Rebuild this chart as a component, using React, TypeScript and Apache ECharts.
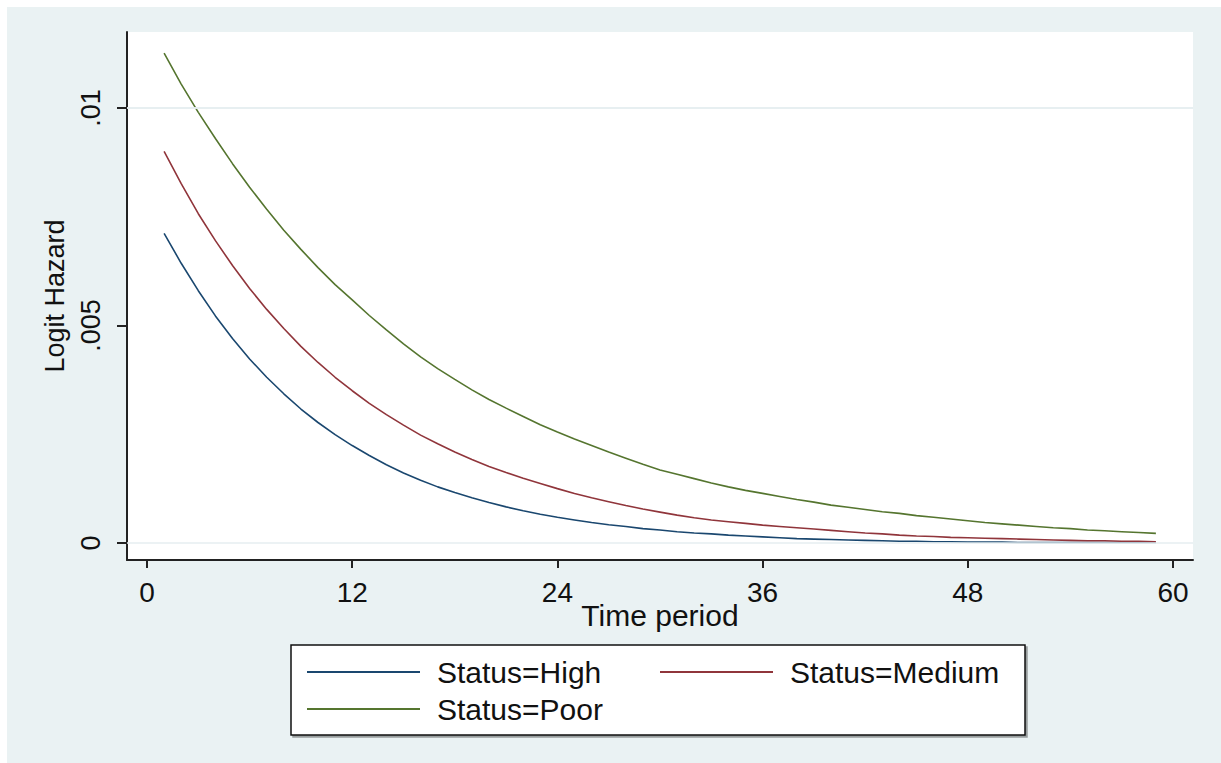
import React, { useEffect, useRef } from "react";
import * as echarts from "echarts";

const xTicks = [0, 12, 24, 36, 48, 60];
const yTicks = [0, 0.005, 0.01];
const yTickLabels = ["0", ".005", ".01"];
const seriesNames = ["Status=High", "Status=Medium", "Status=Poor"];
const seriesColors = ["#1a476f", "#90353b", "#55752f"];

// Logit hazard by time period (periods 1..59)
const high = [
  0.00712, 0.00643, 0.0058, 0.00522, 0.0047, 0.00423, 0.00381, 0.00343, 0.00308, 0.00277,
  0.00249, 0.00224, 0.00201, 0.0018, 0.00161, 0.00144, 0.00129, 0.00116, 0.00104, 0.00093,
  0.00083, 0.00074, 0.00066, 0.00059, 0.00053, 0.00047, 0.00042, 0.00038, 0.00033, 0.0003,
  0.00026, 0.00023, 0.00021, 0.00018, 0.00016, 0.00014, 0.00012, 0.0001, 0.00009, 0.00008,
  0.00007, 0.00006, 0.00005, 0.00004, 0.00004, 0.00003, 0.00003, 0.00002, 0.00002, 0.00002,
  0.00001, 0.00001, 0.00001, 0.00001, 0.00001, 0.00001, 0.00001, 0.00001, 0.00001,
];
const medium = [
  0.009, 0.00826, 0.00757, 0.00695, 0.00638, 0.00585, 0.00537, 0.00493, 0.00452, 0.00415,
  0.00381, 0.0035, 0.00321, 0.00295, 0.00271, 0.00248, 0.00228, 0.00209, 0.00192, 0.00176,
  0.00162, 0.00149, 0.00137, 0.00125, 0.00114, 0.00104, 0.00095, 0.00086, 0.00078, 0.00071,
  0.00064, 0.00058, 0.00053, 0.00049, 0.00045, 0.00041, 0.00038, 0.00035, 0.00032, 0.00029,
  0.00026, 0.00023, 0.00021, 0.00018, 0.00016, 0.00015, 0.00013, 0.00012, 0.00011, 0.0001,
  0.00009, 0.00008, 0.00007, 0.00006, 0.00005, 0.00005, 0.00004, 0.00004, 0.00003,
];
const poor = [
  0.01126, 0.01055, 0.0099, 0.0093, 0.00872, 0.00818, 0.00767, 0.00719, 0.00675, 0.00633,
  0.00594, 0.00559, 0.00523, 0.0049, 0.00458, 0.00428, 0.00401, 0.00376, 0.00352, 0.0033,
  0.0031, 0.00291, 0.00272, 0.00255, 0.00239, 0.00224, 0.00209, 0.00195, 0.00181, 0.00168,
  0.00158, 0.00148, 0.00138, 0.00129, 0.00121, 0.00114, 0.00107, 0.001, 0.00094, 0.00087,
  0.00082, 0.00077, 0.00072, 0.00068, 0.00063, 0.00059, 0.00055, 0.00051, 0.00047, 0.00044,
  0.00041, 0.00038, 0.00035, 0.00033, 0.0003, 0.00028, 0.00026, 0.00024, 0.00022,
];
const seriesValues = [high, medium, poor];

const FONT = "'Liberation Sans', Arial, sans-serif";

export default function App() {
  const ref = useRef<HTMLDivElement>(null);

  useEffect(() => {
    if (!ref.current) return;
    const chart = echarts.init(ref.current, undefined, { renderer: "svg" });
    const periods = high.map((_, i) => i + 1);

    const series: any[] = seriesNames.map((name, s) => ({
      name,
      type: "line",
      symbol: "none",
      showSymbol: false,
      z: 3,
      lineStyle: { color: seriesColors[s], width: 1.6 },
      itemStyle: { color: seriesColors[s] },
      data: periods.map((t, i) => [t, seriesValues[s][i]]),
    }));

    series.unshift({
      name: "gridlines",
      type: "line",
      symbol: "none",
      z: 1,
      data: [],
      markLine: {
        silent: true,
        symbol: ["none", "none"],
        label: { show: false },
        lineStyle: { color: "#e6eef0", type: "solid", width: 1.5 },
        data: yTicks.map((v) => ({ yAxis: v })),
      },
    });

    const legendItem = (name: string, left: number, top: number) => ({
      data: [name],
      left,
      top,
      icon: "rect",
      itemWidth: 113,
      itemHeight: 2,
      itemGap: 0,
      padding: 0,
      selectedMode: false,
      z: 10,
      textStyle: { fontSize: 30, color: "#111", fontFamily: FONT, padding: [0, 0, 0, 12] },
    });

    chart.setOption({
      animation: false,
      backgroundColor: "#eaf2f3",
      textStyle: { fontFamily: FONT },
      grid: {
        left: 120,
        right: 28,
        top: 25,
        bottom: 203,
        show: true,
        backgroundColor: "#ffffff",
        borderWidth: 0,
      },
      xAxis: {
        type: "value",
        min: -1.17,
        max: 61.17,
        splitLine: { show: false },
        axisLine: { show: true, onZero: false, lineStyle: { color: "#222", width: 2 } },
        axisTick: {
          show: true,
          inside: false,
          length: 8,
          customValues: xTicks,
          lineStyle: { color: "#222", width: 2 },
        },
        axisLabel: {
          customValues: xTicks,
          fontSize: 28,
          color: "#111",
          margin: 18,
          fontFamily: FONT,
        },
        name: "Time period",
        nameLocation: "middle",
        nameGap: 40,
        nameMoveOverlap: false,
        nameTextStyle: { fontSize: 30, color: "#111", fontFamily: FONT },
      },
      yAxis: {
        type: "value",
        min: -0.000391,
        max: 0.011747,
        splitLine: { show: false },
        axisLine: { show: true, onZero: false, lineStyle: { color: "#222", width: 2 } },
        axisTick: {
          show: true,
          inside: false,
          length: 10,
          customValues: yTicks,
          lineStyle: { color: "#222", width: 2 },
        },
        axisLabel: {
          customValues: yTicks,
          rotate: 90,
          fontSize: 27,
          color: "#111",
          margin: 23,
          fontFamily: FONT,
          formatter: (v: number) => {
            const i = yTicks.findIndex((t) => Math.abs(t - v) < 1e-9);
            return i >= 0 ? yTickLabels[i] : "";
          },
        },
        name: "Logit Hazard",
        nameLocation: "middle",
        nameRotate: 90,
        nameGap: 59,
        nameTextStyle: { fontSize: 27, color: "#111", fontFamily: FONT },
      },
      legend: [
        legendItem(seriesNames[0], 300, 650),
        legendItem(seriesNames[1], 653, 650),
        legendItem(seriesNames[2], 300, 687),
      ],
      graphic: [
        {
          type: "rect",
          z: 1,
          shape: { x: 284, y: 638, width: 734, height: 90 },
          style: {
            fill: "#ffffff",
            stroke: "#111",
            lineWidth: 1.5,
            shadowColor: "rgba(0,0,0,0.35)",
            shadowOffsetX: 2,
            shadowOffsetY: 2,
            shadowBlur: 0,
          },
        },
      ],
      series,
    });

    return () => {
      chart.dispose();
    };
  }, []);

  return (
    <div
      ref={ref}
      style={{ position: "absolute", left: 7, top: 7, width: 1214, height: 756 }}
    />
  );
}
